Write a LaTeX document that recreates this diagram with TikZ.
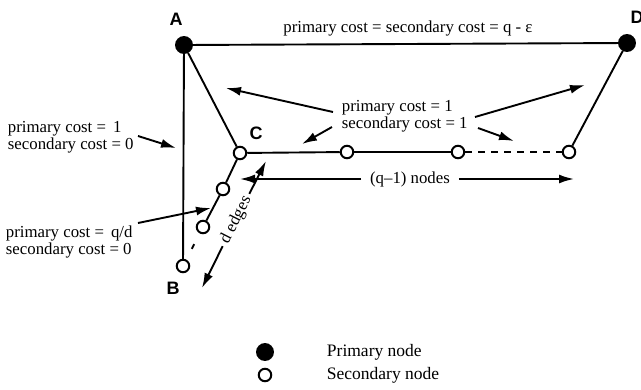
\documentclass[tikz,border=0pt]{standalone}
\usepackage{fontspec}
\setmainfont{Liberation Serif}
\newfontfamily\lblfont{Liberation Sans}
\usetikzlibrary{arrows.meta}
\begin{document}
\begin{tikzpicture}[x=1pt,y=1pt,
 line width=1.9pt,
 prim/.style={circle,fill=black,draw=black,inner sep=0pt,minimum size=16pt},
 sec/.style={circle,fill=white,draw=black,line width=2pt,inner sep=0pt,minimum size=12.5pt},
 lbl/.style={font=\lblfont\bfseries\fontsize{18}{20}\selectfont,inner sep=0pt},
 txt/.style={font=\fontsize{16.8}{17}\selectfont,align=left,inner sep=0pt},
 leg/.style={font=\fontsize{17.5}{19}\selectfont,inner sep=0pt,anchor=west},
 arr/.style={-{Latex[length=15pt,width=9pt]}},
 dashline/.style={dash pattern=on 7pt off 6pt},
]
\useasboundingbox (0,0) rectangle (641,-389);

% nodes
\node[prim] (A) at (184,-45) {};
\node[prim] (D) at (627,-43) {};
\node[sec] (C) at (240,-153) {};
\node[sec] (n1) at (347,-152) {};
\node[sec] (n2) at (458,-152) {};
\node[sec] (n3) at (569,-152) {};
\node[sec] (c1) at (223,-189) {};
\node[sec] (c2) at (203,-227) {};
\node[sec] (B) at (183,-266) {};

% edges
\draw (A) -- (D);
\draw (A) -- (B);
\draw (A) -- (C);
\draw (C) -- (n1);
\draw (n1) -- (n2);
\draw[dashline] (n2) -- (n3);
\draw (n3) -- (D);
\draw (C) -- (c1);
\draw (c1) -- (c2);
\draw[shorten >=12pt, shorten <=12pt] (c2) -- (B);

% node letters
\node[lbl] (Alab) at (176,-19) {A};
\node[lbl] (Dlab) at (637,-17) {D};
\node[lbl] (Clab) at (256,-133) {C};
\node[lbl] (Blab) at (173,-288) {B};

% top label
\node[txt] (top) at (408,-28) {primary cost = secondary cost = q - ε};

% left label
\node[txt,anchor=west] (L1) at (7,-137) {primary cost = \,1\\secondary cost = 0};
\coordinate (L1s) at (138,-136);
\coordinate (L1t) at (176,-148);
\draw[arr] (L1s) -- (L1t);

% lower-left label
\node[txt,anchor=west] (L2) at (5,-242) {primary cost = \,q/d\\secondary cost = 0};
\coordinate (L2s) at (138,-223);
\coordinate (L2t) at (211,-208);
\draw[arr] (L2s) -- (L2t);

% middle label
\node[txt,anchor=west] (M) at (341,-116) {primary cost = 1\\secondary cost = 1};
\coordinate (Mas) at (333,-112);
\coordinate (Mat) at (226,-88);
\coordinate (Mbs) at (332,-127);
\coordinate (Mbt) at (302,-144);
\coordinate (Mcs) at (475,-117);
\coordinate (Mct) at (585,-85);
\coordinate (Mds) at (478,-128);
\coordinate (Mdt) at (514,-141);
\draw[arr] (Mas) -- (Mat);
\draw[arr] (Mbs) -- (Mbt);
\draw[arr] (Mcs) -- (Mct);
\draw[arr] (Mds) -- (Mdt);

% (q-1) nodes
\node[txt,inner xsep=8pt] (Q) at (410,-179) {(q–1) nodes};
\coordinate (qL) at (240,-179);
\coordinate (qR) at (574,-179);
\draw[arr] (Q.west) -- (qL);
\draw[arr] (Q.east) -- (qR);

% d edges
\node[txt,rotate=63,inner xsep=3pt] (de) at (236,-220) {d edges};
\coordinate (deU) at (266,-161);
\coordinate (deL) at (202,-288);
\draw[arr] (de.east) -- (deU);
\draw[arr] (de.west) -- (deL);

% legend
\node[prim] (lp) at (265,-352) {};
\node[sec] (ls) at (265,-375) {};
\node[leg] (lpt) at (326,-352) {Primary node};
\node[leg] (lst) at (326,-375) {Secondary node};
\end{tikzpicture}
\end{document}
